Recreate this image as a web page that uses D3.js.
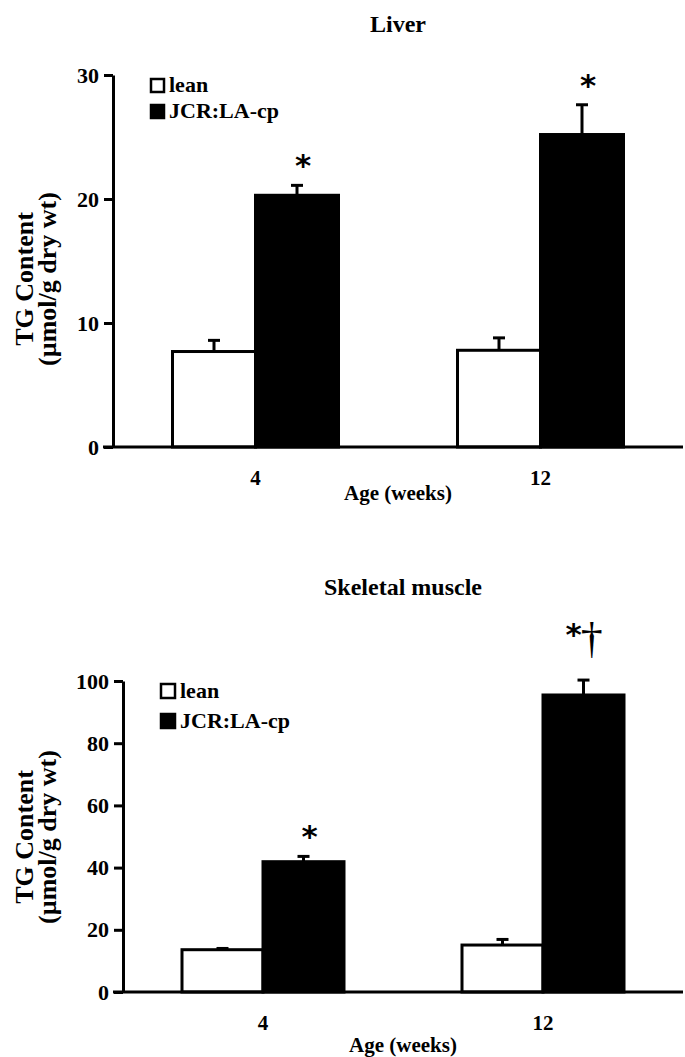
<!DOCTYPE html>
<html>
<head>
<meta charset="utf-8">
<script src="https://cdn.jsdelivr.net/npm/d3@7"></script>
<style>
  body { margin: 0; background: #fff; }
  text { font-family: "Liberation Serif", "Times New Roman", serif; font-weight: bold; fill: #000; }
</style>
</head>
<body>
<svg id="chart" width="685" height="1057"></svg>
<script>
// ---------------- data ----------------
var ages = ["4", "12"];
var groups = ["lean", "JCR:LA-cp"];

var liverLean = [7.7, 7.8];
var liverLeanErr = [0.9, 1.0];
var liverObese = [20.3, 25.2];
var liverObeseErr = [0.8, 2.4];
var liverMarks = ["*", "*"];
var liverTicks = [0, 10, 20, 30];

var muscleLean = [13.6, 15.1];
var muscleLeanErr = [0.4, 1.8];
var muscleObese = [41.9, 95.5];
var muscleObeseErr = [1.7, 4.8];
var muscleMarks = ["*", "*†"];
var muscleTicks = [0, 20, 40, 60, 80, 100];

var svg = d3.select("#chart");

// ---------------- one panel ----------------
function drawPanel(cfg) {
  var g = svg.append("g");

  var y = d3.scaleLinear().domain([0, cfg.max]).range([cfg.bottom, cfg.top]);
  var x0 = d3.scaleBand().domain(ages).range([cfg.left, cfg.right]);
  var x1 = d3.scaleBand().domain(groups).range([0, cfg.barW * 2]);

  var rows = [];
  ages.forEach(function(a, i) {
    rows.push({age: a, grp: groups[0], v: cfg.lean[i], e: cfg.leanErr[i], mark: ""});
    rows.push({age: a, grp: groups[1], v: cfg.obese[i], e: cfg.obeseErr[i], mark: cfg.marks[i]});
  });
  var bx = function(d) { return x0(d.age) + x0.bandwidth() / 2 - cfg.barW + x1(d.grp); };
  var cx = function(d) { return bx(d) + cfg.barW / 2; };

  // error bars (upper only)
  var eb = g.selectAll(".err").data(rows).enter().append("g");
  eb.append("line")
    .attr("x1", cx).attr("x2", cx)
    .attr("y1", function(d) { return y(d.v); })
    .attr("y2", function(d) { return y(d.v + d.e); })
    .attr("stroke", "#000").attr("stroke-width", 3);
  eb.append("line")
    .attr("x1", function(d) { return cx(d) - 6; })
    .attr("x2", function(d) { return cx(d) + 6; })
    .attr("y1", function(d) { return y(d.v + d.e); })
    .attr("y2", function(d) { return y(d.v + d.e); })
    .attr("stroke", "#000").attr("stroke-width", 3);

  // bars
  g.selectAll(".bar").data(rows).enter().append("rect")
    .attr("x", function(d) { return bx(d); })
    .attr("y", function(d) { return y(d.v); })
    .attr("width", cfg.barW)
    .attr("height", function(d) { return y(0) - y(d.v); })
    .attr("fill", function(d) { return d.grp == "lean" ? "#fff" : "#000"; })
    .attr("stroke", "#000")
    .attr("stroke-width", 3);

  // significance marks
  var mk = g.selectAll(".mark").data(rows.filter(function(d) { return d.mark; }))
    .enter().append("text")
      .attr("x", function(d) { return d.mark.length > 1 ? cx(d) - 18 : cx(d) + 6; })
      .attr("y", function(d) { return y(d.v + d.e) - (d.mark.length > 1 ? 35 : 9); })
      .attr("text-anchor", function(d) { return d.mark.length > 1 ? "start" : "middle"; });
  mk.append("tspan")
    .style("font-family", "DejaVu Sans")
    .style("font-size", "31px")
    .text("*");
  mk.filter(function(d) { return d.mark.length > 1; })
    .append("tspan")
      .attr("dx", -1)
      .attr("dy", 8)
      .style("font-size", "44px")
      .style("font-weight", "normal")
      .text("†");

  // y axis
  var ya = g.append("g")
    .attr("transform", "translate(" + cfg.left + ",0)")
    .call(d3.axisLeft(y).tickValues(cfg.ticks).tickSize(9).tickSizeOuter(0).tickPadding(5));
  ya.select(".domain").attr("stroke-width", 3);
  ya.selectAll(".tick line").attr("stroke-width", 3);
  ya.selectAll(".tick text")
    .style("font-size", "22px").style("font-family", "Liberation Serif").style("font-weight", "bold");

  // x axis
  g.append("line")
    .attr("x1", cfg.left - 10).attr("x2", cfg.right)
    .attr("y1", y(0)).attr("y2", y(0))
    .attr("stroke", "#000").attr("stroke-width", 3);

  g.selectAll(".xlab").data(ages).enter().append("text")
    .attr("x", function(d) { return x0(d) + x0.bandwidth() / 2; })
    .attr("y", y(0) + cfg.tickDy)
    .attr("text-anchor", "middle")
    .style("font-size", "21px")
    .text(function(d) { return d; });

  g.append("text")
    .attr("x", (cfg.left + cfg.right) / 2)
    .attr("y", y(0) + cfg.xTitleDy)
    .attr("text-anchor", "middle")
    .style("font-size", "21px")
    .text("Age (weeks)");

  // y title
  var yt = g.append("text")
    .attr("transform", "translate(" + cfg.yTitleX + "," + cfg.yTitleY + ") rotate(-90)")
    .attr("text-anchor", "middle")
    .style("font-size", "26px");
  yt.append("tspan").attr("x", 0).attr("dy", 0).text("TG Content");
  yt.append("tspan").attr("x", 0).attr("dy", 23).text("(µmol/g dry wt)");

  // panel title
  g.append("text")
    .attr("x", (cfg.left + cfg.right) / 2)
    .attr("y", cfg.titleY)
    .attr("text-anchor", "middle")
    .style("font-size", "24px")
    .text(cfg.title);

  // legend
  groups.forEach(function(name, i) {
    var ly = cfg.legY + i * cfg.legGap;
    g.append("rect")
      .attr("x", cfg.legX).attr("y", ly - cfg.legBox)
      .attr("width", cfg.legBox).attr("height", cfg.legBox)
      .attr("fill", i == 0 ? "#fff" : "#000")
      .attr("stroke", "#000").attr("stroke-width", 2.5);
    g.append("text")
      .attr("x", cfg.legX + cfg.legBox + 5).attr("y", ly)
      .style("font-size", "22px")
      .text(name);
  });
}

drawPanel({
  title: "Liver", titleY: 32,
  max: 30, ticks: liverTicks,
  lean: liverLean, leanErr: liverLeanErr, obese: liverObese, obeseErr: liverObeseErr, marks: liverMarks,
  left: 113, right: 683, top: 75, bottom: 447, barW: 83,
  tickDy: 38, xTitleDy: 53, yTitleX: 33, yTitleY: 279,
  legX: 151, legY: 92, legGap: 26, legBox: 13
});

drawPanel({
  title: "Skeletal muscle", titleY: 595,
  max: 100, ticks: muscleTicks,
  lean: muscleLean, leanErr: muscleLeanErr, obese: muscleObese, obeseErr: muscleObeseErr, marks: muscleMarks,
  left: 123, right: 683, top: 681, bottom: 992, barW: 81,
  tickDy: 38, xTitleDy: 60, yTitleX: 33, yTitleY: 837,
  legX: 161, legY: 698, legGap: 30, legBox: 14
});
</script>
</body>
</html>
